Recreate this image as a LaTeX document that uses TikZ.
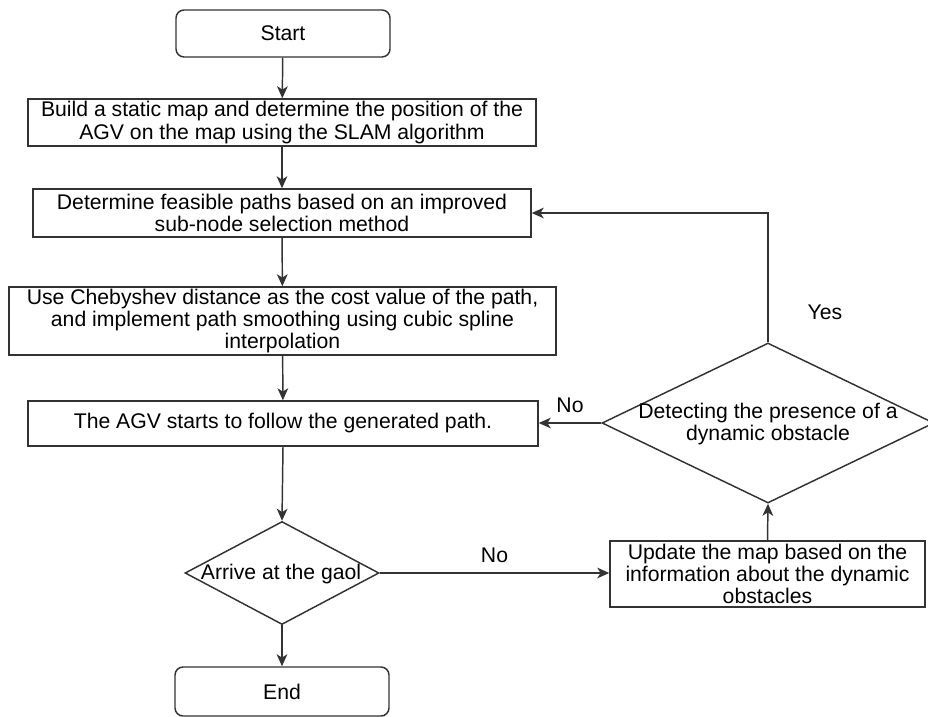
\documentclass[tikz,border=0pt]{standalone}
\usepackage{fontspec}
\setmainfont{Liberation Sans}
\usetikzlibrary{shapes.geometric,arrows.meta}
\definecolor{ln}{HTML}{333333}
\begin{document}
\begin{tikzpicture}[x=0.75pt,y=-0.75pt,
  every node/.style={font=\fontsize{15.9pt}{16.8pt}\selectfont, text=black},
  proc/.style={draw=ln, line width=1.1pt, rectangle, inner sep=0pt, align=center, fill=white},
  term/.style={draw=ln, line width=1.1pt, rectangle, rounded corners=6pt, inner sep=0pt, fill=white},
  dia/.style={draw=ln, line width=1.1pt, diamond, inner sep=0pt, fill=white},
  lbl/.style={inner sep=0pt, align=center},
  arr/.style={draw=ln, line width=1.1pt, -{Stealth[length=9pt,width=8pt,inset=2.5pt]}}
]
\useasboundingbox (0,0) rectangle (928,717);

\node[term, minimum width=214*0.75pt, minimum height=47*0.75pt] (start) at (283,33.5) {Start};
\node[proc, minimum width=508*0.75pt, minimum height=47*0.75pt] (b1) at (282,122.5)
  {Build a static map and determine the position of the\\AGV on the map using the SLAM algorithm};
\node[proc, minimum width=498*0.75pt, minimum height=48*0.75pt] (b2) at (282,213)
  {Determine feasible paths based on an improved\\sub-node selection method};
\node[proc, minimum width=547*0.75pt, minimum height=68*0.75pt] (b3) at (282.5,321)
  {Use Chebyshev distance as the cost value of the path,\\and implement path smoothing using cubic spline\\interpolation};
\node[proc, minimum width=510*0.75pt, minimum height=45*0.75pt] (b4) at (283,423.5)
  {The AGV starts to follow the generated path.};
\node[dia, minimum width=194*0.75pt, minimum height=103*0.75pt] (d1) at (282,573) {};
\node[lbl] (d1t) at (281,574) {Arrive at the gaol};
\node[term, minimum width=214*0.75pt, minimum height=49*0.75pt] (end) at (282,691.5) {End};
\node[proc, minimum width=315*0.75pt, minimum height=66*0.75pt] (b5) at (767.5,574)
  {Update the map based on the\\information about the dynamic\\obstacles};
\node[dia, minimum width=332*0.75pt, minimum height=160*0.75pt] (d2) at (768,423) {};
\node[lbl] (d2t) at (768,424) {Detecting the presence of a\\dynamic obstacle};

\draw[arr] (start) -- (b1);
\draw[arr] (b1) -- (b2);
\draw[arr] (b2) -- (b3);
\draw[arr] (b3) -- (b4);
\draw[arr] (b4.south) -- (d1.north);
\draw[arr] (d1) -- (end);
\draw[arr] (d1.east) -- node[lbl, above=7pt] (no1) {No} (d1.east -| b5.west);
\draw[arr] (b5.north) -- (d2.south);
\draw[arr] (d2.west) -- node[lbl, above=7pt] (no2) {No} (d2.west -| b4.east);
\draw[arr] (d2.north) |- (b2.east);
\node[lbl] (yes) at (825,312) {Yes};
\end{tikzpicture}
\end{document}
